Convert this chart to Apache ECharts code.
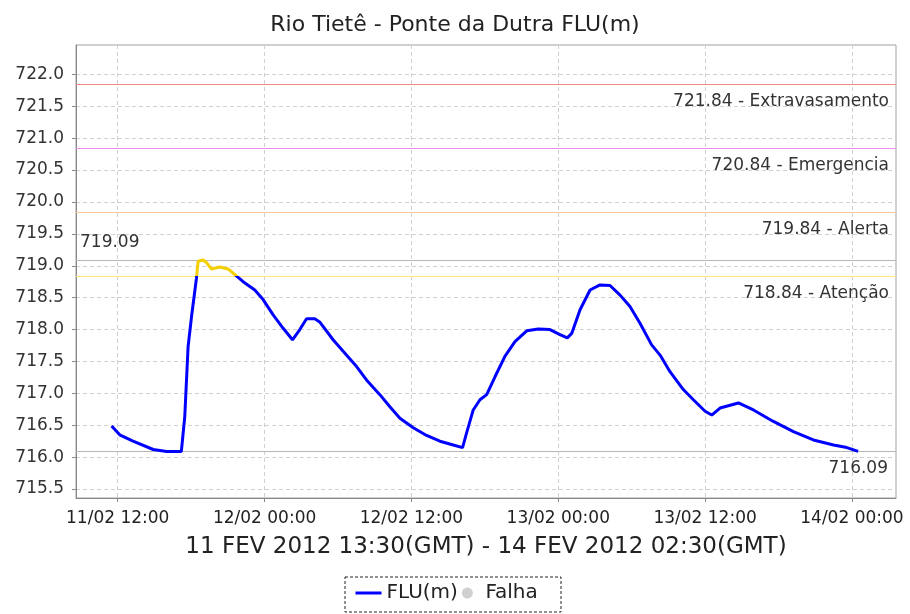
<!DOCTYPE html>
<html>
<head>
<meta charset="utf-8">
<script src="https://cdn.jsdelivr.net/npm/echarts@6/dist/echarts.min.js"></script>
<style>
  html, body { margin: 0; padding: 0; background: #fff; }
  #chart { width: 910px; height: 614px; }
</style>
</head>
<body>
<div id="chart"></div>
<script>
// hours since 11/02/2012 00:00 (local time, GMT-2)
var hours = [11.5, 12.16, 13.25, 14.9, 16.0, 17.2, 17.48, 17.75, 18.03, 18.43, 18.57, 18.97, 19.25, 19.66, 20.34,
  21.02, 21.57, 22.25, 23.2, 23.88, 24.7, 25.52, 26.28, 26.88, 27.43, 28.1, 28.5, 29.6, 30.42, 31.52, 32.33,
  33.42, 34.24, 35.06, 36.15, 37.24, 38.33, 39.42, 40.18, 40.51, 41.05, 41.6, 42.15, 42.83, 43.64, 44.46,
  45.42, 46.37, 47.32, 48.14, 48.74, 49.1, 49.78, 50.6, 51.41, 52.23, 53.05, 53.86, 54.68, 55.63, 56.32,
  57.13, 58.22, 59.04, 60.0, 60.54, 61.22, 62.72, 63.95, 65.58, 67.22, 68.85, 70.49, 71.58, 72.5];
var levels = [716.49, 716.35, 716.25, 716.12, 716.09, 716.09, 716.64, 717.73, 718.2, 718.8, 719.07, 719.09, 719.05,
  718.95, 718.98, 718.95, 718.86, 718.75, 718.62, 718.47, 718.23, 718.02, 717.84, 718.0, 718.17, 718.17,
  718.12, 717.84, 717.66, 717.42, 717.21, 716.98, 716.79, 716.61, 716.46, 716.34, 716.25, 716.19, 716.15,
  716.38, 716.74, 716.9, 716.98, 717.26, 717.58, 717.81, 717.98, 718.01, 718.0, 717.92, 717.87, 717.94,
  718.31, 718.62, 718.70, 718.69, 718.54, 718.36, 718.10, 717.76, 717.60, 717.34, 717.06, 716.90, 716.72,
  716.66, 716.77, 716.85, 716.74, 716.56, 716.40, 716.27, 716.19, 716.15, 716.09];

var xTicks = [12, 24, 36, 48, 60, 72];
var yTicks = [715.5, 716.0, 716.5, 717.0, 717.5, 718.0, 718.5, 719.0, 719.5, 720.0, 720.5, 721.0, 721.5, 722.0];

var alertLevels = [721.84, 720.84, 719.84, 718.84];
var alertNames = ['Extravasamento', 'Emergencia', 'Alerta', 'Atenção'];
var alertColors = ['#f58a8a', '#f08cf0', '#ffc896', '#ffe680'];
var maxLevel = 719.09;
var minLevel = 716.09;

var labelFont = 'DejaVu Sans';

var chart = echarts.init(document.getElementById('chart'));

var refLines = alertLevels.map(function (v, i) {
  return {
    yAxis: v,
    lineStyle: { color: alertColors[i], type: 'solid', width: 1.2 },
    label: {
      position: 'insideEndBottom',
      formatter: v.toFixed(2) + ' - ' + alertNames[i],
      distance: [7, 9]
    }
  };
});
refLines.push({
  yAxis: maxLevel,
  lineStyle: { color: '#b8b8b8', type: 'solid', width: 1 },
  label: { position: 'insideStartTop', formatter: maxLevel.toFixed(2), distance: [4, 9] }
});
refLines.push({
  yAxis: minLevel,
  lineStyle: { color: '#b8b8b8', type: 'solid', width: 1 },
  label: { position: 'insideEndBottom', formatter: minLevel.toFixed(2), distance: [8, 9] }
});

var option = {
  animation: false,
  backgroundColor: '#fff',
  title: {
    text: 'Rio Tietê - Ponte da Dutra FLU(m)',
    left: 'center',
    top: 9,
    textStyle: { fontFamily: labelFont, fontSize: 22, fontWeight: 'normal', color: '#222' }
  },
  grid: {
    left: 76, right: 14, top: 45, bottom: 116,
    show: true, borderColor: '#a0a0a0', borderWidth: 1
  },
  legend: {
    bottom: 6,
    left: 349,
    data: [
      { name: 'FLU(m)', itemStyle: { opacity: 0 }, lineStyle: { color: '#0000ff', width: 3 } },
      { name: 'Falha', icon: 'circle', itemStyle: { color: '#c4c4c4' } }
    ],
    itemGap: 4,
    itemWidth: 26,
    itemHeight: 11,
    textStyle: { fontFamily: labelFont, fontSize: 20, color: '#222' }
  },
  graphic: [{
    type: 'rect',
    shape: { x: 345, y: 577, width: 216, height: 35 },
    style: { fill: null, stroke: '#222', lineWidth: 1, lineDash: [3, 2] }
  }],
  xAxis: {
    type: 'value',
    min: 8.59,
    max: 75.6,
    name: '11 FEV 2012 13:30(GMT) - 14 FEV 2012 02:30(GMT)',
    nameLocation: 'middle',
    nameGap: 38,
    nameTextStyle: { fontFamily: labelFont, fontSize: 23, color: '#222' },
    axisLine: { lineStyle: { color: '#888' } },
    axisTick: { length: 4, lineStyle: { color: '#888' }, customValues: xTicks },
    axisLabel: {
      customValues: xTicks,
      margin: 12,
      fontFamily: labelFont, fontSize: 17, color: '#222',
      formatter: function (h) {
        var day = 11 + Math.floor(h / 24);
        var hh = Math.round(h % 24);
        return day + '/02 ' + (hh < 10 ? '0' : '') + hh + ':00';
      }
    },
    splitLine: { show: true, lineStyle: { color: '#d0d0d0', type: [4, 3] } }
  },
  yAxis: {
    type: 'value',
    min: 715.36,
    max: 722.46,
    axisLine: { show: true, lineStyle: { color: '#888' } },
    axisTick: { show: true, length: 4, lineStyle: { color: '#888' }, customValues: yTicks },
    axisLabel: {
      customValues: yTicks,
      margin: 12,
      fontFamily: labelFont, fontSize: 17, color: '#333',
      formatter: function (v) { return v.toFixed(1); }
    },
    splitLine: { show: true, lineStyle: { color: '#d0d0d0', type: [4, 3] } }
  },
  visualMap: {
    show: false,
    type: 'piecewise',
    seriesIndex: 1,
    dimension: 1,
    pieces: [
      { gt: 718.84, lte: 730, color: '#f5d000' },
      { gte: 700, lte: 718.84, color: '#0000ff' }
    ],
    outOfRange: { color: '#0000ff' }
  },
  series: [
    {
      name: 'ref',
      type: 'line',
      data: [[40, 719]],
      showSymbol: false,
      symbol: 'none',
      lineStyle: { opacity: 0 },
      silent: true,
      markLine: {
        silent: true,
        symbol: 'none',
        label: { fontFamily: labelFont, fontSize: 17, color: '#333' },
        data: refLines
      }
    },
    {
      name: 'FLU(m)',
      type: 'line',
      z: 5,
      showSymbol: false,
      symbol: 'none',
      lineStyle: { width: 3 },
      data: hours.map(function (h, i) { return [h, levels[i]]; })
    },
    {
      name: 'Falha',
      type: 'scatter',
      itemStyle: { color: '#c4c4c4' },
      data: []
    }
  ]
};

chart.setOption(option);
</script>
</body>
</html>
